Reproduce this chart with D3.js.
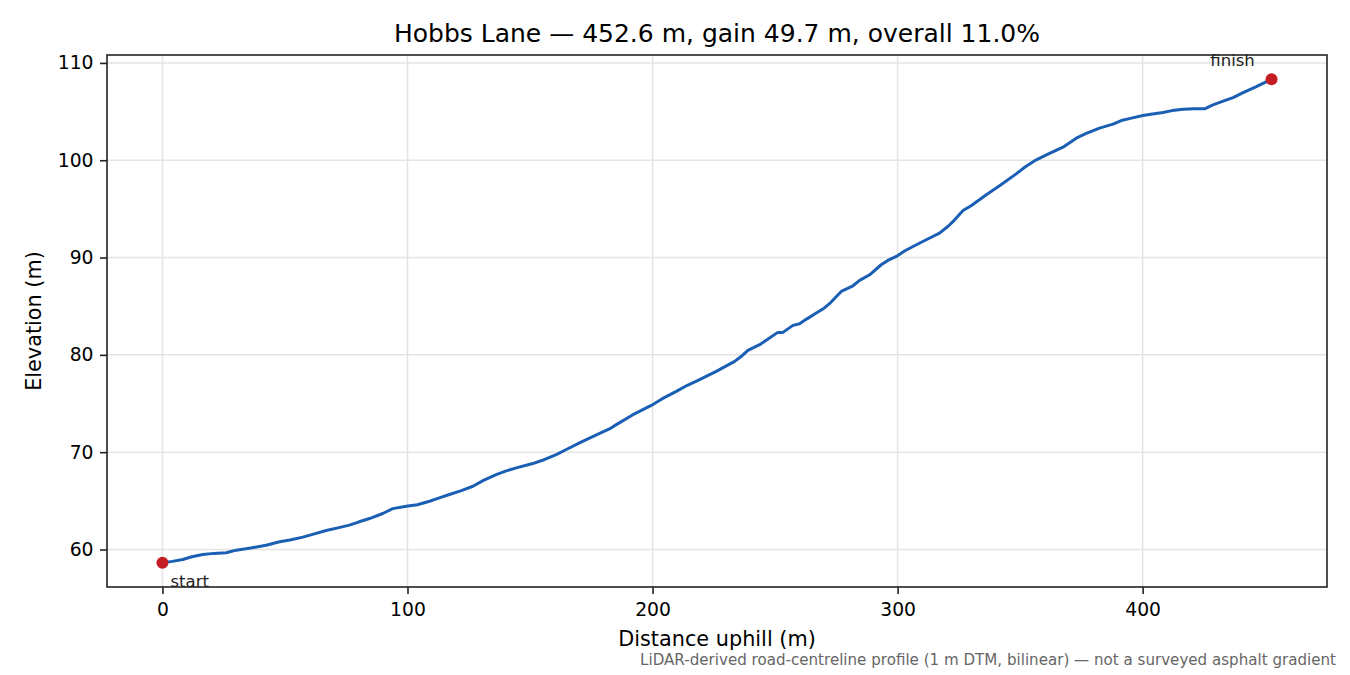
<!DOCTYPE html>
<html>
<head>
<meta charset="utf-8">
<script src="https://cdn.jsdelivr.net/npm/d3@7"></script>
<style>
  body { margin: 0; background: #fff; }
  svg { font-family: "DejaVu Sans", sans-serif; }
</style>
</head>
<body>
<div id="chart"></div>
<script>
// profile
const distance = [0, 4, 8.3, 12, 16.5, 21, 26, 30.1, 36, 42.3, 47.8, 52, 57.3, 62, 66.8, 72, 76.3, 80, 84.5, 89.9,
  94, 99.5, 104, 109, 113, 117.1, 122, 126.7, 131, 136.2, 140, 144.4, 151.1, 156, 160.7, 165, 170.2, 176, 182.4,
  185.2, 192, 200.1, 204, 209.7, 214, 219.2, 226, 233.5, 236, 238.9, 243.7, 247, 251.1, 253.2, 257.3, 260, 263,
  266.8, 270, 272.2, 277, 281.8, 284.5, 288.6, 293.3, 296, 299.5, 303, 306.3, 311.7, 317.1, 320.5, 323, 326.7,
  330, 336.2, 341.6, 348.4, 352, 356.6, 362, 367.5, 372.9, 377, 382.4, 387.9, 391.3, 395, 400.1, 404, 408.3, 412,
  416.5, 421, 425.3, 428.7, 432, 436.9, 441, 446.4, 452.6];
const elevation = [58.63, 58.78, 58.97, 59.25, 59.49, 59.6, 59.66, 59.93, 60.15, 60.44, 60.79, 60.98, 61.27, 61.6,
  61.95, 62.25, 62.5, 62.82, 63.18, 63.7, 64.2, 64.45, 64.6, 64.96, 65.3, 65.65, 66.05, 66.5, 67.1, 67.7, 68.05,
  68.39, 68.83, 69.25, 69.75, 70.3, 70.95, 71.65, 72.39, 72.83, 73.85, 74.89, 75.5, 76.25, 76.85, 77.45, 78.3,
  79.33, 79.8, 80.46, 81.05, 81.6, 82.31, 82.31, 83.03, 83.2, 83.7, 84.3, 84.8, 85.26, 86.52, 87.1, 87.65, 88.23,
  89.26, 89.7, 90.11, 90.7, 91.14, 91.83, 92.51, 93.19, 93.8, 94.83, 95.32, 96.45, 97.37, 98.6, 99.3, 100.04,
  100.7, 101.34, 102.27, 102.75, 103.3, 103.71, 104.08, 104.3, 104.59, 104.75, 104.9, 105.1, 105.24, 105.3,
  105.28, 105.69, 106, 106.44, 106.95, 107.57, 108.33];
const xTicks = [0, 100, 200, 300, 400];
const yTicks = [60, 70, 80, 90, 100, 110];
const endLabels = ["start", "finish"];

const width = 1350, height = 675;
const margin = { left: 107, right: 23, top: 55, bottom: 88 };

const svg = d3.select("#chart").append("svg")
  .attr("width", width)
  .attr("height", height);

const pts = distance.map((d, i) => ({ d, e: elevation[i] }));
const total = distance[distance.length - 1];
const gain = elevation[elevation.length - 1] - elevation[0];

// matplotlib-style 5% padding
const xPad = total * 0.05;
const [eMin, eMax] = d3.extent(elevation);
const yPad = (eMax - eMin) * 0.05;

const x = d3.scaleLinear()
  .domain([-xPad, total + xPad])
  .range([margin.left, width - margin.right]);
const y = d3.scaleLinear()
  .domain([eMin - yPad, eMax + yPad])
  .range([height - margin.bottom, margin.top]);

// grid
svg.append("g")
  .selectAll("line")
  .data(xTicks)
  .enter().append("line")
  .attr("x1", d => x(d)).attr("x2", d => x(d))
  .attr("y1", margin.top).attr("y2", height - margin.bottom)
  .attr("stroke", "#e4e4e4").attr("stroke-width", 1.5);
svg.append("g")
  .selectAll("line")
  .data(yTicks)
  .enter().append("line")
  .attr("x1", margin.left).attr("x2", width - margin.right)
  .attr("y1", d => y(d)).attr("y2", d => y(d))
  .attr("stroke", "#e4e4e4").attr("stroke-width", 1.5);

// axes
const xAxis = svg.append("g")
  .attr("transform", `translate(0,${height - margin.bottom})`)
  .call(d3.axisBottom(x).tickValues(xTicks).tickSize(7).tickPadding(9));
const yAxis = svg.append("g")
  .attr("transform", `translate(${margin.left},0)`)
  .call(d3.axisLeft(y).tickValues(yTicks).tickSize(7).tickPadding(6.5));
[xAxis, yAxis].forEach(a => {
  a.select(".domain").remove();
  a.selectAll("text").attr("font-size", 18.75).attr("fill", "#000")
    .attr("font-family", "DejaVu Sans");
  a.selectAll("line").attr("stroke", "#222").attr("stroke-width", 1.6);
});

// frame
svg.append("rect")
  .attr("x", margin.left).attr("y", margin.top)
  .attr("width", width - margin.left - margin.right)
  .attr("height", height - margin.top - margin.bottom)
  .attr("fill", "none").attr("stroke", "#222").attr("stroke-width", 1.6);

// profile line
const line = d3.line().x(p => x(p.d)).y(p => y(p.e));
svg.append("path")
  .datum(pts)
  .attr("d", line)
  .attr("fill", "none")
  .attr("stroke", "#1a5fb4")
  .attr("stroke-width", 3)
  .attr("stroke-linejoin", "round");

// endpoints
const ends = [pts[0], pts[pts.length - 1]];
svg.selectAll("circle.end")
  .data(ends)
  .enter().append("circle")
  .attr("cx", p => x(p.d)).attr("cy", p => y(p.e))
  .attr("r", 6)
  .attr("fill", "#c41e24");

svg.append("text")
  .attr("x", x(ends[0].d) + 8).attr("y", y(ends[0].e) + 24.5)
  .attr("font-size", 16.5).attr("fill", "#222")
  .text(endLabels[0]);
svg.append("text")
  .attr("x", x(ends[1].d) - 39).attr("y", y(ends[1].e) - 13)
  .attr("text-anchor", "middle")
  .attr("font-size", 16.5).attr("fill", "#222")
  .text(endLabels[1]);

// title and labels
svg.append("text")
  .attr("x", (margin.left + width - margin.right) / 2).attr("y", 42)
  .attr("text-anchor", "middle").attr("font-size", 25)
  .text(`Hobbs Lane — ${total.toFixed(1)} m, gain ${gain.toFixed(1)} m, overall ${(gain / total * 100).toFixed(1)}%`);

svg.append("text")
  .attr("x", (margin.left + width - margin.right) / 2).attr("y", 646)
  .attr("text-anchor", "middle").attr("font-size", 20.8)
  .text("Distance uphill (m)");

svg.append("text")
  .attr("transform", `translate(41,${(margin.top + height - margin.bottom) / 2}) rotate(-90)`)
  .attr("text-anchor", "middle").attr("font-size", 20.8)
  .text("Elevation (m)");

svg.append("text")
  .attr("x", 1336).attr("y", 665)
  .attr("text-anchor", "end").attr("font-size", 15.1).attr("fill", "#666")
  .text("LiDAR-derived road-centreline profile (1 m DTM, bilinear) — not a surveyed asphalt gradient");
</script>
</body>
</html>
